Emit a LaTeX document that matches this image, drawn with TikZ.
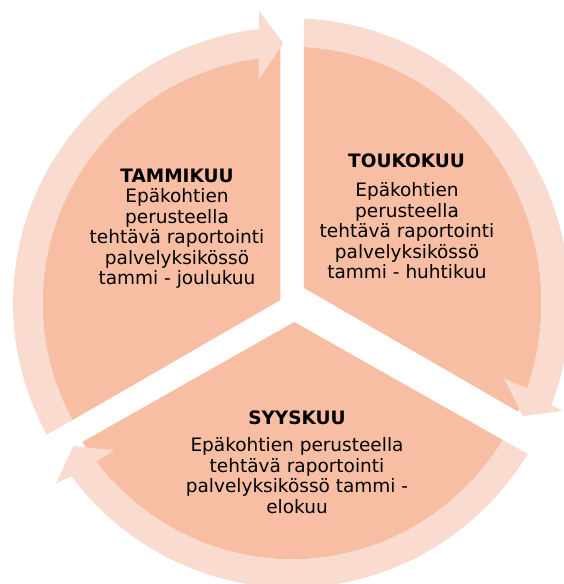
\documentclass[tikz,border=0pt]{standalone}
\usepackage{fontspec}
\setmainfont{DejaVu Sans}
\definecolor{slicefill}{HTML}{F8BEA4}
\definecolor{bandfill}{HTML}{FADBCF}

\begin{document}
\begin{tikzpicture}[x=1pt,y=1pt,
    piece/.style={fill=slicefill},
    ringarc/.style={fill=bandfill},
    headtxt/.style={font=\fontsize{18.5}{20.5}\selectfont\bfseries, inner sep=0pt},
    bodytxt/.style={font=\fontsize{18.5}{20.5}\selectfont, align=center, inner sep=0pt}]
  \useasboundingbox (-292,-281) rectangle (272,303);
  % inner corners of the three pieces
  \coordinate (L) at (-11.5,3);
  \coordinate (R) at (12,15);
  \coordinate (B) at (2.3,-19);
  % pieces
  \begin{scope}
    \clip (L) -- +(90:600) -- +(150:600) -- +(210:600) -- cycle;
    \fill[piece] (0,0) ellipse[x radius=249.5, y radius=256.3];
  \end{scope}
  \begin{scope}
    \clip (R) -- +(90:600) -- +(30:600) -- +(-30:600) -- cycle;
    \fill[piece] (0,0) ellipse[x radius=249.5, y radius=256.3];
  \end{scope}
  \begin{scope}
    \clip (B) -- +(209.5:600) -- +(270:600) -- +(-29.5:600) -- cycle;
    \fill[piece] (0,0) ellipse[x radius=249.5, y radius=256.3];
  \end{scope}
  % arrows round the pieces
  \fill[ringarc] (208.3:249.3 and 246.7) arc[start angle=208.3, end angle=97.6, x radius=249.3, y radius=246.7]
    -- (98.4:226.4) -- (91.9:259.8) -- (96.4:293.9)
    -- (96.8:279 and 276) arc[start angle=96.8, end angle=208.5, x radius=279, y radius=276] -- cycle;
  \fill[ringarc] (87.3:249.5 and 256.3) arc[start angle=87.3, end angle=-19.5, x radius=249.5, y radius=256.3]
    -- (-19.6:225) -- (-26.1:257) -- (-21.75:291.4)
    -- (-21:278 and 284.7) arc[start angle=-21, end angle=87.5, x radius=278, y radius=284.7] -- cycle;
  \fill[ringarc] (-32.3:249.5 and 256.3) arc[start angle=-32.3, end angle=-141.7, x radius=249.5, y radius=256.3]
    -- (-140.4:230.8) -- (-146.8:261.3) -- (-142.6:297)
    -- (-142.5:278 and 284.7) arc[start angle=-142.5, end angle=-32, x radius=278, y radius=284.7] -- cycle;
  % texts
  \node[headtxt] (tam) at (-115,127.2) {TAMMIKUU};
  \node[bodytxt] (tamtxt) at (-115,64.6) {Epäkohtien\\perusteella\\tehtävä raportointi\\palvelyksikössö\\tammi - joulukuu};
  \node[headtxt] (tou) at (114.5,142.1) {TOUKOKUU};
  \node[bodytxt] (toutxt) at (115,72.1) {Epäkohtien\\perusteella\\tehtävä raportointi\\palvelyksikössö\\tammi - huhtikuu};
  \node[headtxt] (syy) at (5,-114.9) {SYYSKUU};
  \node[bodytxt] (syytxt) at (5,-172.5) {Epäkohtien perusteella\\tehtävä raportointi\\palvelyksikössö tammi -\\elokuu};
\end{tikzpicture}
\end{document}
